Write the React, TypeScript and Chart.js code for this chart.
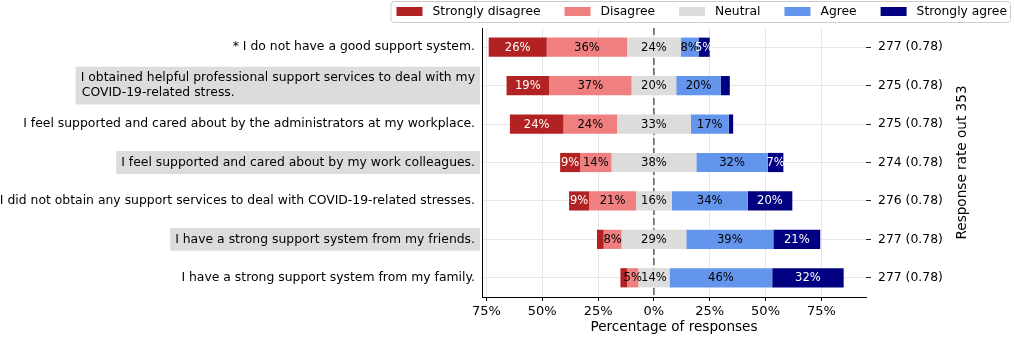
import { useEffect, useRef } from 'react';
import { Chart, registerables } from 'chart.js';

Chart.register(...registerables);

// ---------------- data ----------------
const statements: string[][] = [
  ['* I do not have a good support system.'],
  ['I obtained helpful professional support services to deal with my', 'COVID-19-related stress.'],
  ['I feel supported and cared about by the administrators at my workplace.'],
  ['I feel supported and cared about by my work colleagues.'],
  ['I did not obtain any support services to deal with COVID-19-related stresses.'],
  ['I have a strong support system from my friends.'],
  ['I have a strong support system from my family.'],
];
const highlightedRows = [false, true, false, true, false, true, false];
const responseCounts = ['277 (0.78)', '275 (0.78)', '275 (0.78)', '274 (0.78)', '276 (0.78)', '277 (0.78)', '277 (0.78)'];

const levels = ['Strongly disagree', 'Disagree', 'Neutral', 'Agree', 'Strongly agree'];
const levelColors = ['#B22222', '#F08080', '#DCDCDC', '#6495ED', '#000080'];
const labelColors = ['#ffffff', '#000000', '#000000', '#000000', '#ffffff'];

const stronglyDisagree = [26, 19, 24, 9, 9, 3, 3];
const disagree = [36, 37, 24, 14, 21, 8, 5];
const neutral = [24, 20, 33, 38, 16, 29, 14];
const agree = [8, 20, 17, 32, 34, 39, 46];
const stronglyAgree = [5, 4, 2, 7, 20, 21, 32];

const xTickValues = [-75, -50, -25, 0, 25, 50, 75];
const xMin = -77;
const xMax = 95;
const xTitle = 'Percentage of responses';
const rightTitle = 'Response rate out 353';
const minLabelValue = 5;

const FAMILY = "'DejaVu Sans', sans-serif";
const Y_FONT = 12.4;
const LEGEND_FONT = 12.3;

export default function App() {
  const canvasRef = useRef<HTMLCanvasElement | null>(null);

  useEffect(() => {
    const canvas = canvasRef.current;
    if (!canvas) return;
    Chart.defaults.font.family = FAMILY;
    Chart.defaults.color = '#000';

    const series = [stronglyDisagree, disagree, neutral, agree, stronglyAgree];

    // left-align wrapped lines inside a right-aligned block (pad with spaces)
    const mctx = document.createElement('canvas').getContext('2d')!;
    mctx.font = `${Y_FONT}px ${FAMILY}`;
    const displayLabels: (string | string[])[] = statements.map((lines) => {
      if (lines.length < 2) return lines[0];
      const w0 = Math.max(...lines.map((l) => mctx.measureText(l).width));
      return lines.map((l) => {
        let s = l;
        while (mctx.measureText(s + ' ').width <= w0 + 1.5) s += ' ';
        return s;
      });
    });

    // floating bar ranges centred on the middle of Neutral
    const ranges: number[][][] = series.map(() => []);
    statements.forEach((_, i) => {
      let start = -(stronglyDisagree[i] + disagree[i] + neutral[i] / 2);
      series.forEach((s, k) => {
        ranges[k].push([start, start + s[i]]);
        start += s[i];
      });
    });

    const backdropPlugin = {
      id: 'labelBackdrops',
      beforeDraw(chart: any) {
        const scale = chart.scales.y;
        const ctx = chart.ctx;
        const lh = Y_FONT * 1.2;
        ctx.save();
        ctx.font = `${Y_FONT}px ${FAMILY}`;
        ctx.fillStyle = '#DCDCDC';
        scale.ticks.forEach((t: any, i: number) => {
          if (!highlightedRows[i]) return;
          const lines = Array.isArray(t.label) ? t.label : [t.label];
          const w = Math.max(...lines.map((l: string) => ctx.measureText(String(l)).width));
          const right = scale.right - 7 + 5;
          const cy = scale.getPixelForTick(i);
          const h = lines.length * lh + 8;
          ctx.fillRect(right - w - 10, cy - h / 2, w + 10, h);
        });
        ctx.restore();
      },
    };

    const zeroLinePlugin = {
      id: 'zeroLine',
      beforeDatasetsDraw(chart: any) {
        const ctx = chart.ctx;
        const x = chart.scales.x.getPixelForValue(0);
        const { top, bottom } = chart.chartArea;
        ctx.save();
        ctx.strokeStyle = 'rgba(0,0,0,0.5)';
        ctx.lineWidth = 1.9;
        ctx.setLineDash([7, 3]);
        ctx.beginPath();
        ctx.moveTo(x, top);
        ctx.lineTo(x, bottom);
        ctx.stroke();
        ctx.restore();
      },
    };

    const valueLabelPlugin = {
      id: 'valueLabels',
      afterDatasetsDraw(chart: any) {
        const ctx = chart.ctx;
        ctx.save();
        ctx.font = `11.6px ${FAMILY}`;
        ctx.textAlign = 'center';
        ctx.textBaseline = 'middle';
        chart.data.datasets.forEach((_: any, k: number) => {
          const meta = chart.getDatasetMeta(k);
          meta.data.forEach((bar: any, i: number) => {
            const v = series[k][i];
            if (v < minLabelValue) return;
            const { x, base, y } = bar.getProps(['x', 'base', 'y'], true);
            ctx.fillStyle = labelColors[k];
            ctx.fillText(`${v}%`, (x + base) / 2, y + 0.5);
          });
        });
        ctx.restore();
      },
    };

    const decorPlugin = {
      id: 'decor',
      afterDraw(chart: any) {
        const ctx = chart.ctx;
        ctx.save();
        // legend
        ctx.font = `${LEGEND_FONT}px ${FAMILY}`;
        const boxW = 26;
        const boxH = 9;
        const boxGap = 10;
        const itemGap = 24;
        const items = chart.data.datasets.map((ds: any) => ({
          text: ds.label,
          color: ds.backgroundColor,
          w: ctx.measureText(ds.label).width,
        }));
        const total =
          items.reduce((a: number, it: any) => a + boxW + boxGap + it.w, 0) + itemGap * (items.length - 1);
        const rightEnd = 1007;
        let x = rightEnd - total;
        const cy = 11.5;
        ctx.strokeStyle = '#cccccc';
        ctx.lineWidth = 1;
        ctx.beginPath();
        (ctx as any).roundRect(x - 5.5, 1.5, total + 9, 21, 3);
        ctx.fillStyle = 'rgba(255,255,255,0.8)';
        ctx.fill();
        ctx.stroke();
        ctx.textAlign = 'left';
        ctx.textBaseline = 'middle';
        items.forEach((it: any) => {
          ctx.fillStyle = it.color;
          ctx.fillRect(x, cy - boxH / 2, boxW, boxH);
          ctx.fillStyle = '#000';
          ctx.fillText(it.text, x + boxW + boxGap, cy);
          x += boxW + boxGap + it.w + itemGap;
        });
        // right axis title
        const { top, bottom } = chart.chartArea;
        ctx.translate(962, (top + bottom) / 2);
        ctx.rotate(-Math.PI / 2);
        ctx.font = `13.6px ${FAMILY}`;
        ctx.fillStyle = '#000';
        ctx.textAlign = 'center';
        ctx.textBaseline = 'middle';
        ctx.fillText(rightTitle, 0, 0);
        ctx.restore();
      },
    };

    const chart = new Chart(canvas, {
      type: 'bar',
      data: {
        labels: displayLabels as any,
        datasets: levels.map((name, k) => ({
          label: name,
          data: ranges[k] as any,
          backgroundColor: levelColors[k],
          borderWidth: 0,
          grouped: false,
          barPercentage: 0.5,
          categoryPercentage: 1,
          xAxisID: 'x',
          yAxisID: 'y',
        })),
      },
      options: {
        indexAxis: 'y',
        animation: false,
        responsive: false,
        events: [],
        layout: { padding: { top: 28, right: 0, left: 0, bottom: 0 } },
        plugins: {
          legend: { display: false },
          tooltip: { enabled: false },
        },
        scales: {
          x: {
            type: 'linear',
            position: 'bottom',
            min: xMin,
            max: xMax,
            afterBuildTicks: (s: any) => {
              s.ticks = xTickValues.map((v) => ({ value: v }));
            },
            afterFit: (s: any) => {
              s.height = 42;
            },
            ticks: {
              callback: (v: any) => `${Math.abs(Number(v))}%`,
              font: { size: 13 },
              color: '#000',
              padding: 3,
              maxRotation: 0,
              autoSkip: false,
            },
            grid: { color: '#e6e6e6', lineWidth: 1, tickColor: '#000', tickLength: 4, drawTicks: true },
            border: { display: true, color: '#000', width: 1 },
            title: {
              display: true,
              text: xTitle,
              color: '#000',
              font: { size: 13.6 },
              padding: { top: 0, bottom: 3 },
            },
          },
          y: {
            type: 'category',
            position: 'left',
            offset: true,
            afterFit: (s: any) => {
              s.width = 482;
            },
            ticks: { font: { size: Y_FONT }, color: '#000', padding: 7, autoSkip: false },
            grid: { color: '#e6e6e6', lineWidth: 1, offset: false, drawTicks: false },
            border: { display: true, color: '#000', width: 1 },
          },
          y2: {
            type: 'category',
            position: 'right',
            labels: responseCounts,
            offset: true,
            afterFit: (s: any) => {
              s.width = 149;
            },
            ticks: { font: { size: Y_FONT }, color: '#000', padding: 7, autoSkip: false },
            grid: { drawOnChartArea: false, offset: false, drawTicks: true, tickLength: 5, tickColor: '#222' },
            border: { display: false },
          },
        } as any,
      },
      plugins: [backdropPlugin, zeroLinePlugin, valueLabelPlugin, decorPlugin],
    });

    return () => {
      chart.destroy();
    };
  }, []);

  return (
    <div style={{ position: 'fixed', left: 0, top: 0, width: 1015, height: 339, background: '#fff' }}>
      <canvas ref={canvasRef} width={1015} height={339} />
    </div>
  );
}
